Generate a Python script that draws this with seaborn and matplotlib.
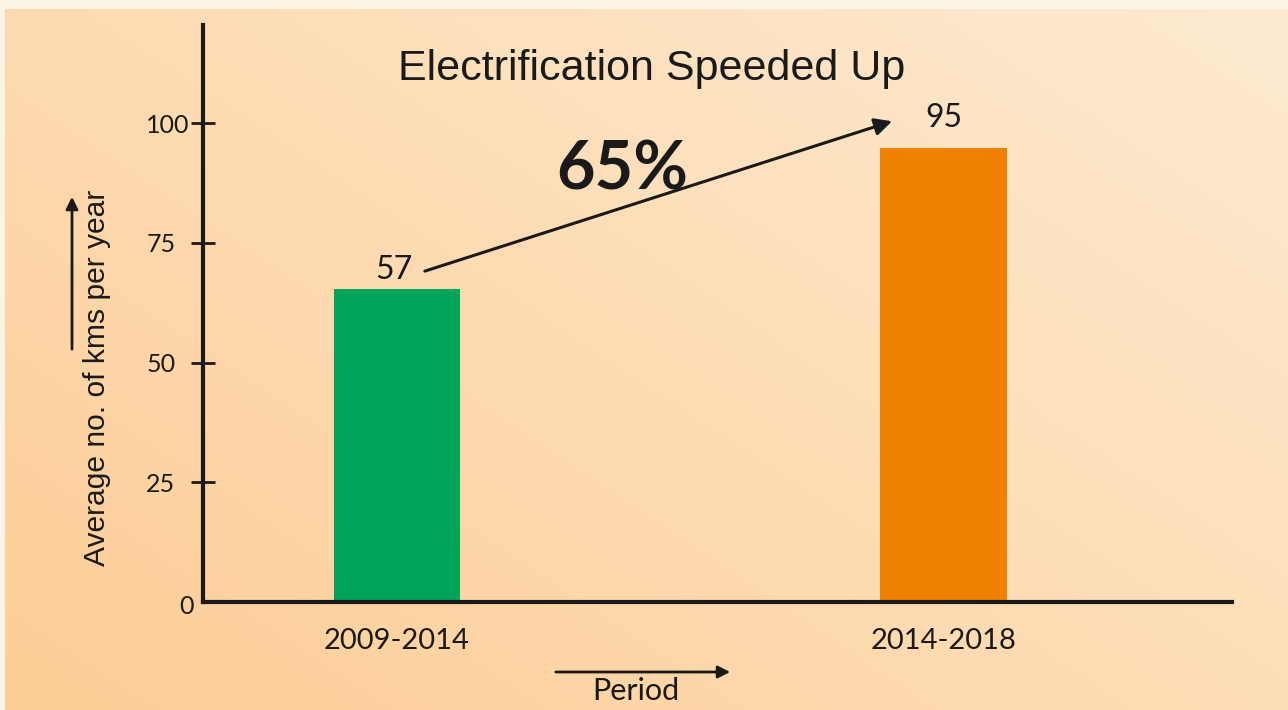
import numpy as np
import matplotlib
matplotlib.use("Agg")
import matplotlib.pyplot as plt
import seaborn as sns

# ---- data ----
periods = ["2009-2014", "2014-2018"]
bar_heights = [65.3, 94.8]          # bar heights as drawn in the picture
value_labels = ["57", "95"]          # printed value labels
bar_colors = ["#00a458", "#f08000"]
y_ticks = [25, 50, 75, 100]
title = "Electrification Speeded Up"
growth_label = "65%"
y_label = "Average no. of kms per year"
x_label = "Period"

sns.set_theme(style="white")
plt.rcParams["font.family"] = ["Lato", "DejaVu Sans"]

W, H = 1288, 710
fig = plt.figure(figsize=(W / 100, H / 100), dpi=100)
fig.patch.set_facecolor("#fdf4e8")

def fx(px):
    return px / W

def fy(py):
    return 1 - py / H

# gradient background
bg = fig.add_axes([fx(5), 0, 1 - fx(5), fy(9)], zorder=-10)
nx, ny = 300, 200
xs = np.linspace(0, 1, nx)[None, :]
ys = np.linspace(1, 0, ny)[:, None]
t = np.clip((xs * 0.55 + ys * 0.45), 0, 1)
c0 = np.array([253, 205, 150]) / 255
c1 = np.array([254, 235, 210]) / 255
img = c0[None, None, :] * (1 - t[..., None]) + c1[None, None, :] * t[..., None]
bg.imshow(img, aspect="auto", extent=[0, 1, 0, 1])
bg.axis("off")

ax = fig.add_axes([fx(203), fy(602), fx(1232) - fx(203), fy(25) - fy(602)])
ax.set_facecolor("none")

sns.barplot(x=periods, y=bar_heights, hue=periods, palette=bar_colors,
            legend=False, width=0.232, saturation=1, linewidth=0, ax=ax)

ink = "#1a1a1a"
ax.set_xlim(-0.355, 1.528)
ax.set_ylim(0, 120.5)
for s in ["top", "right"]:
    ax.spines[s].set_visible(False)
for s in ["left", "bottom"]:
    ax.spines[s].set_color(ink)
    ax.spines[s].set_linewidth(3.0)
    ax.spines[s].set_zorder(5)

ax.set_yticks(y_ticks)
ax.set_yticklabels([str(v) for v in y_ticks], fontsize=18, color=ink)
ax.tick_params(axis="y", direction="inout", length=17, width=2.0, color=ink,
               pad=32.4, left=True)
for lbl in ax.get_yticklabels():
    lbl.set_horizontalalignment("left")
ax.tick_params(axis="x", length=0, pad=19)
ax.set_xticks([0, 1])
ax.set_xticklabels(periods, color=ink, fontsize=21)
ax.set_xlabel("")
ax.set_ylabel("")

# "0" label
fig.text(fx(186), fy(607), "0", fontsize=18, color=ink, ha="center", va="center")

# value labels
ax.text(0 - 0.005, bar_heights[0] + 1.0, value_labels[0], fontsize=23, color=ink,
        ha="center", va="bottom")
ax.text(1, bar_heights[1] + 3.1, value_labels[1], fontsize=23, color=ink,
        ha="center", va="bottom")

# growth arrow
ax.annotate("", xy=(0.906, 100.4), xytext=(0.051, 69.1),
            arrowprops=dict(arrowstyle="-|>", mutation_scale=26, lw=2.2,
                            color=ink, shrinkA=0, shrinkB=0))
fig.text(fx(622), fy(171), growth_label, fontsize=48, fontweight="bold",
         color=ink, ha="center", va="center")

# title
fig.text(fx(652), fy(69), title, fontsize=31, color=ink, ha="center",
         va="center", family=["Liberation Sans", "DejaVu Sans"])

# y label + arrow
fig.text(fx(97), fy(378), y_label, fontsize=21.6, color=ink, rotation=90,
         ha="center", va="center", family=["Liberation Sans", "DejaVu Sans"])
fig.add_artist(matplotlib.patches.FancyArrowPatch(
    (fx(72), fy(352)), (fx(72), fy(194)), transform=fig.transFigure,
    arrowstyle="-|>", mutation_scale=18, lw=2.0, color=ink))

# x label + arrow
fig.text(fx(636), fy(691), x_label, fontsize=22, color=ink, ha="center",
         va="center")
fig.add_artist(matplotlib.patches.FancyArrowPatch(
    (fx(553), fy(672)), (fx(733), fy(672)), transform=fig.transFigure,
    arrowstyle="-|>", mutation_scale=18, lw=2.0, color=ink))

fig.savefig("out.png", dpi=100)
